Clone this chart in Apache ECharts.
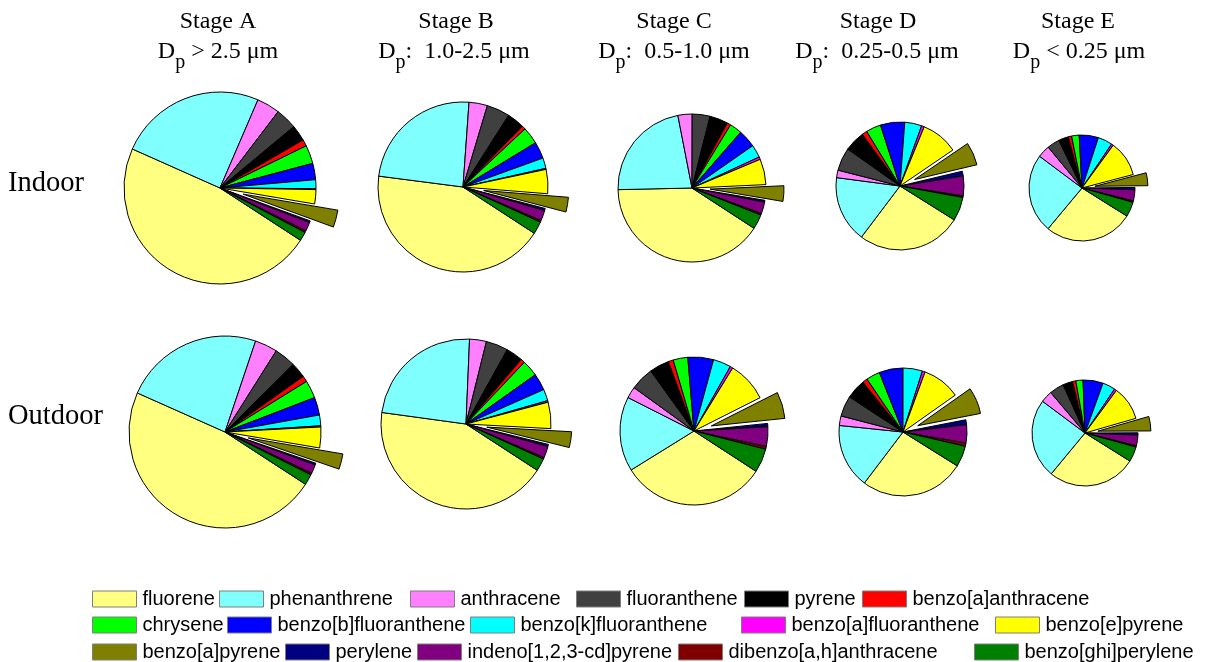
<!DOCTYPE html>
<html>
<head>
<meta charset="utf-8">
<script src="https://cdn.jsdelivr.net/npm/echarts@6/dist/echarts.min.js"></script>
<style>
  html, body { margin: 0; background: #fff; }
  #chart { width: 1214px; height: 662px; }
</style>
</head>
<body>
<div id="chart"></div>
<script>
// PAH compounds, in slice / legend order
const compounds = [
  'fluorene', 'phenanthrene', 'anthracene', 'fluoranthene', 'pyrene',
  'benzo[a]anthracene', 'chrysene', 'benzo[b]fluoranthene', 'benzo[k]fluoranthene',
  'benzo[a]fluoranthene', 'benzo[e]pyrene', 'benzo[a]pyrene', 'perylene',
  'indeno[1,2,3-cd]pyrene', 'dibenzo[a,h]anthracene', 'benzo[ghi]perylene'
];
const colors = [
  '#ffff80', '#80ffff', '#ff80ff', '#404040', '#000000', '#ff0000', '#00ff00', '#0000ff',
  '#00ffff', '#ff00ff', '#ffff00', '#808000', '#000080', '#800080', '#800000', '#008000'
];
const stages = ['Stage A', 'Stage B', 'Stage C', 'Stage D', 'Stage E'];
const sizeRanges = ['{m|D}{s|p}{m| > 2.5 μm}', '{m|D}{s|p}{m|:  1.0-2.5 μm}', '{m|D}{s|p}{m|:  0.5-1.0 μm}',
  '{m|D}{s|p}{m|:  0.25-0.5 μm}', '{m|D}{s|p}{m| < 0.25 μm}'];
const rows = ['Indoor', 'Outdoor'];

// share of each compound (%), per stage
const indoorA = [47.5, 24.8, 3.9, 3.6, 2.7, 1.1, 3.1, 2.75, 1.5, 0.15, 2.4, 2.9, 0.3, 1.5, 0.3, 1.5];
const indoorB = [42.9, 24.1, 3.5, 4.4, 3.3, 0.7, 3.25, 3.2, 2.0, 0.2, 4.6, 2.8, 0.4, 2.0, 0.3, 2.4];
const indoorC = [40.5, 22.3, 3.1, 3.9, 4.0, 0.8, 2.7, 3.9, 2.8, 0.55, 5.6, 3.4, 0.4, 2.55, 0.35, 3.2];
const indoorD = [26.4, 16.8, 1.9, 5.8, 5.2, 1.3, 3.8, 6.1, 4.3, 0.7, 9.3, 5.8, 1.2, 5.0, 0.4, 6.0];
const indoorE = [27.0, 24.0, 3.75, 3.8, 3.0, 1.0, 2.3, 5.8, 4.4, 0.6, 10.8, 3.9, 0.7, 3.4, 0.4, 4.5];
const outdoorA = [47.5, 23.5, 3.8, 3.6, 2.6, 1.0, 3.0, 3.0, 1.8, 0.2, 3.5, 2.6, 0.3, 1.5, 0.3, 1.8];
const outdoorB = [43.0, 23.5, 3.2, 4.2, 3.2, 0.8, 3.1, 3.2, 2.2, 0.3, 5.0, 3.0, 0.4, 2.2, 0.3, 2.4];
const outdoorC = [32.0, 16.3, 2.5, 5.1, 4.3, 1.1, 3.2, 5.6, 3.9, 0.6, 8.8, 5.8, 0.7, 4.3, 0.6, 5.2];
const outdoorD = [26.4, 16.3, 2.4, 5.2, 5.0, 1.25, 3.5, 6.0, 4.9, 0.7, 9.6, 6.7, 1.25, 4.6, 0.8, 5.3];
const outdoorE = [27.1, 24.2, 3.6, 4.4, 3.0, 1.0, 2.2, 6.1, 3.9, 0.7, 10.4, 4.4, 0.7, 3.25, 0.4, 4.6];

const indoor = [indoorA, indoorB, indoorC, indoorD, indoorE];
const outdoor = [outdoorA, outdoorB, outdoorC, outdoorD, outdoorE];
const exploded = 'benzo[a]pyrene';

// layout
const pieX = [[220, 463, 692, 900, 1082], [225, 466, 694, 903, 1085]];
const pieY = [[188, 187, 188, 186, 188], [432, 424, 431, 432, 433]];
const radii = [96, 85, 74, 64, 53];
const offsets = [24, 21, 18, 16, 13];
const startAngles = [-33, -33, -33, -32, -32];
const headX1 = [218, 456, 674, 878, 1078];
const headX2 = [218, 454, 674, 877, 1079];
const legendPos = [
  [92, 589], [219, 589], [410, 589], [576, 589], [744, 589], [862, 589],
  [92, 615], [227, 615], [470, 615], [741, 615], [995, 615],
  [92, 642], [285, 642], [417, 642], [678, 642], [974, 642]
];

const serif = '"Liberation Serif", "Times New Roman", serif';

const chart = echarts.init(document.getElementById('chart'), null, { renderer: 'canvas' });

const series = [];
[indoor, outdoor].forEach(function (row, r) {
  row.forEach(function (values, s) {
    series.push({
      type: 'pie',
      center: [pieX[r][s], pieY[r][s]],
      radius: radii[s],
      startAngle: startAngles[s],
      clockwise: true,
      selectedMode: 'single',
      selectedOffset: offsets[s],
      silent: true,
      label: { show: false },
      labelLine: { show: false },
      emphasis: { disabled: true },
      itemStyle: { borderColor: '#000', borderWidth: 1 },
      data: values.map(function (v, i) {
        return {
          name: compounds[i],
          value: v,
          selected: compounds[i] === exploded,
          itemStyle: { color: colors[i] }
        };
      })
    });
  });
});

const legends = compounds.map(function (name, i) {
  return {
    data: [name],
    left: legendPos[i][0],
    top: legendPos[i][1],
    padding: 0,
    itemWidth: 44,
    itemHeight: 16,
    icon: 'rect',
    selectedMode: false,
    itemStyle: { borderColor: '#7f7f7f', borderWidth: 1 },
    textStyle: { fontFamily: '"Liberation Sans", Arial, sans-serif', fontSize: 20, color: '#000', padding: [0, 0, 0, 1] }
  };
});

const graphic = [];
stages.forEach(function (st, s) {
  graphic.push({
    type: 'text', x: headX1[s], y: 22,
    style: { text: st, fill: '#000', font: '24px ' + serif, align: 'center', verticalAlign: 'middle' }
  });
  graphic.push({
    type: 'text', x: headX2[s], y: 52,
    style: {
      text: sizeRanges[s], fill: '#000', align: 'center', verticalAlign: 'middle',
      rich: {
        m: { fontSize: 24, fontFamily: serif, fill: '#000' },
        s: { fontSize: 20, fontFamily: serif, fill: '#000', padding: [22, 0, 0, 0] }
      }
    }
  });
});
rows.forEach(function (label, r) {
  graphic.push({
    type: 'text', x: 8, y: [184, 417][r],
    style: { text: label, fill: '#000', font: '28.5px ' + serif, align: 'left', verticalAlign: 'middle' }
  });
});

chart.setOption({
  animation: false,
  backgroundColor: '#fff',
  color: colors,
  legend: legends,
  graphic: graphic,
  series: series
});
</script>
</body>
</html>
